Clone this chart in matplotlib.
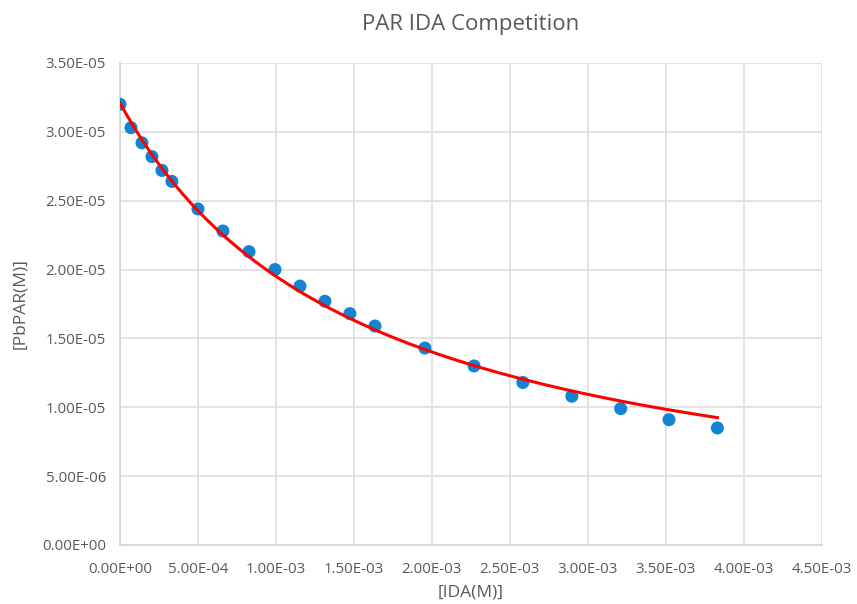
import matplotlib.pyplot as plt
import numpy as np
from matplotlib.ticker import FuncFormatter, MultipleLocator

plt.rcParams['font.family'] = ['Open Sans', 'DejaVu Sans']

# IDA concentration (M) and free PbPAR (M)
ida = [0.0, 0.0705e-3, 0.141e-3, 0.205e-3, 0.269e-3, 0.333e-3, 0.5e-3, 0.66e-3,
       0.827e-3, 0.994e-3, 1.154e-3, 1.314e-3, 1.474e-3, 1.635e-3, 1.955e-3,
       2.27e-3, 2.583e-3, 2.897e-3, 3.21e-3, 3.52e-3, 3.83e-3]
pbpar = [3.20e-5, 3.03e-5, 2.92e-5, 2.82e-5, 2.72e-5, 2.64e-5, 2.44e-5, 2.28e-5,
         2.13e-5, 2.00e-5, 1.88e-5, 1.77e-5, 1.68e-5, 1.59e-5, 1.43e-5,
         1.30e-5, 1.18e-5, 1.08e-5, 0.99e-5, 0.91e-5, 0.85e-5]

# fitted competition curve y = y0 / (1 + x/K)
fit_y0 = 3.21e-5
fit_K = 1.55e-3

grey = '#595959'

fig = plt.figure(figsize=(8.57, 6.04), dpi=100)
ax = fig.add_axes([0.140, 0.0977, 0.819, 0.798])

xf = np.linspace(0, max(ida), 300)
yf = fit_y0 / (1 + xf / fit_K)

ax.scatter(ida, pbpar, s=88, color='#1284d4', zorder=3, edgecolors='none')
ax.plot(xf, yf, color='#ff0000', lw=2.2, zorder=4)

ax.set_xlim(0, 4.5e-3)
ax.set_ylim(0, 3.5e-5)
ax.xaxis.set_major_locator(MultipleLocator(0.5e-3))
ax.yaxis.set_major_locator(MultipleLocator(0.5e-5))
fmt = FuncFormatter(lambda v, p: f'{v:.2E}')
ax.xaxis.set_major_formatter(fmt)
ax.yaxis.set_major_formatter(fmt)

ax.grid(True, color='#dedede', lw=1.2)
ax.set_axisbelow(True)
for side in ['top', 'right']:
    ax.spines[side].set_visible(False)
for side in ['left', 'bottom']:
    ax.spines[side].set_color('#d4d4d4')
    ax.spines[side].set_linewidth(1.2)
ax.tick_params(length=0, labelsize=10.8, labelcolor=grey)
ax.tick_params(axis='x', pad=12)
ax.tick_params(axis='y', pad=10)

ax.set_title('PAR IDA Competition', fontsize=16, color=grey, pad=24)
ax.set_xlabel('[IDA(M)]', fontsize=12.5, color=grey, labelpad=6)
ax.set_ylabel('[PbPAR(M)]', fontsize=12.5, color=grey, labelpad=10)

fig.savefig('out.png', dpi=100, facecolor='white')
